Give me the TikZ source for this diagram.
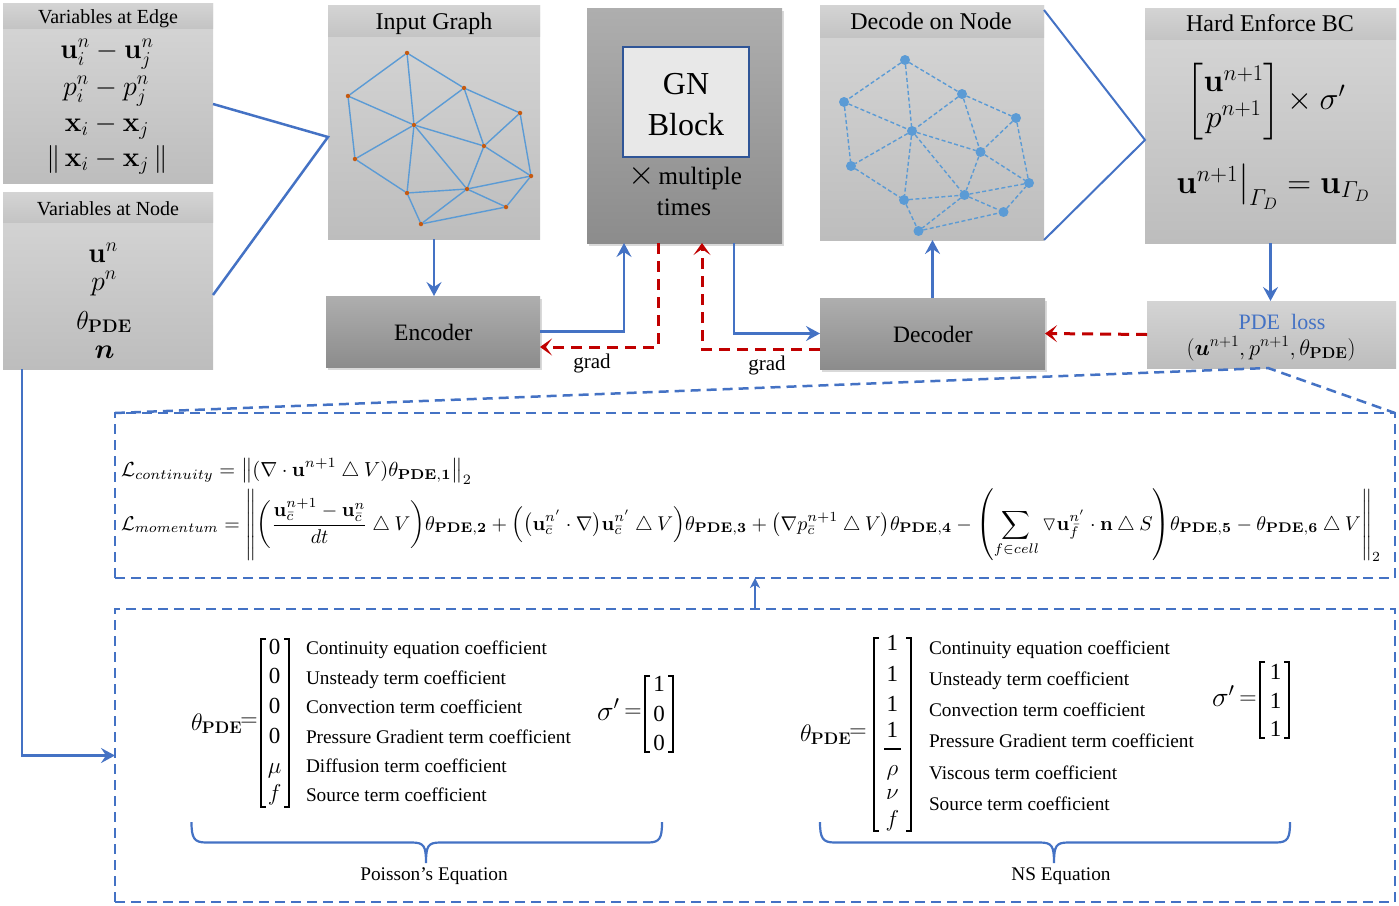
\RequirePackage{fix-cm}
\documentclass[tikz,border=0pt]{standalone}
\usepackage[no-math]{fontspec}
\setmainfont{Liberation Serif}
\usepackage{amsmath,amssymb,bm}
\usetikzlibrary{arrows.meta,shadows}
\definecolor{myblue}{HTML}{4472C4}
\definecolor{myred}{HTML}{C00000}
\definecolor{gblue}{HTML}{5B9BD5}
\definecolor{gorange}{HTML}{C55A11}
\definecolor{frameblue}{HTML}{2F5597}
\definecolor{lgtop}{HTML}{D7D7D7}
\definecolor{lgbot}{HTML}{BDBDBD}
\definecolor{lttop}{HTML}{D4D4D4}
\definecolor{ltbot}{HTML}{C4C4C4}
\definecolor{dgtop}{HTML}{AEAEAE}
\definecolor{dgbot}{HTML}{8C8C8C}
\definecolor{innerfill}{HTML}{E8E8E8}
\newcommand{\myfs}[1]{\fontsize{#1}{#1}\selectfont}
\begin{document}
\begin{tikzpicture}[x=1pt,y=-1pt,
 every node/.style={inner sep=0pt, outer sep=0pt},
 lbody/.style={rectangle, top color=lgtop, bottom color=lgbot},
 ltitle/.style={rectangle, top color=lttop, bottom color=ltbot},
 dbox/.style={rectangle, top color=dgtop, bottom color=dgbot, drop shadow={shadow xshift=2pt, shadow yshift=-3pt, opacity=0.3}},
 odot/.style={circle, fill=gorange, minimum size=4.5pt},
 bdot/.style={circle, fill=gblue, minimum size=10pt},
 gedge/.style={draw=gblue, line width=1.4pt},
 dedge/.style={draw=gblue, line width=1.4pt, dash pattern=on 4pt off 2.5pt},
 barrow/.style={draw=myblue, line width=2.5pt, -{Stealth[length=14pt,width=15pt,inset=5pt]}},
 rarrow/.style={draw=myred, line width=3pt, dash pattern=on 11pt off 7pt, -{Stealth[length=12pt,width=17pt,inset=6pt]}},
 bline/.style={draw=myblue, line width=2.5pt},
 tline/.style={draw=myblue, line width=2pt},
 bdash/.style={draw=myblue, line width=2.5pt, dash pattern=on 10pt off 6pt},
 brk/.style={draw=black, line width=2pt},
 bbrace/.style={draw=myblue, line width=2.2pt},
 lbl/.style={anchor=base west, font=\myfs{19.3}},
 ent/.style={anchor=base, font=\myfs{23}},
]
\useasboundingbox (0,0) rectangle (1399,905);

% ---------- light boxes ----------
\node[lbody, minimum width=210pt, minimum height=180pt] (edge) at (108,93) {};
\node[ltitle, minimum width=210pt, minimum height=25pt, anchor=north] (edget) at (edge.north) {};
\node[anchor=base, font=\myfs{20}] (edgetxt) at (108,23.5) {Variables at Edge};
\node[anchor=base, font=\myfs{28}] (e1) at (107,58) {$\mathbf{u}_i^n-\mathbf{u}_j^n$};
\node[anchor=base, font=\myfs{28}] (e2) at (106,95) {$p_i^n-p_j^n$};
\node[anchor=base, font=\myfs{28}] (e3) at (107,131.5) {$\mathbf{x}_i-\mathbf{x}_j$};
\node[anchor=base, font=\myfs{28}] (e4) at (107,166.5) {$\|\,\mathbf{x}_i-\mathbf{x}_j\,\|$};

\node[lbody, minimum width=210pt, minimum height=177pt] (nodevar) at (108,280.5) {};
\node[ltitle, minimum width=210pt, minimum height=30pt, anchor=north] (nodevart) at (nodevar.north) {};
\node[anchor=base, font=\myfs{20}] (nodevartxt) at (108,215) {Variables at Node};
\node[anchor=base, font=\myfs{28}] (v1) at (103,262) {$\mathbf{u}^n$};
\node[anchor=base, font=\myfs{28}] (v2) at (104,290) {$p^n$};
\node[anchor=base, font=\myfs{26}] (v3) at (104,329) {$\theta_{\mathbf{PDE}}$};
\node[anchor=base, font=\myfs{28}] (v4) at (104.5,358) {$\bm{n}$};

\node[lbody, minimum width=212pt, minimum height=234pt] (input) at (434,122) {};
\node[ltitle, minimum width=212pt, minimum height=31pt, anchor=north] (inputt) at (input.north) {};
\node[anchor=base, font=\myfs{24}] (inputtxt) at (434,29.5) {Input Graph};

\node[lbody, minimum width=224pt, minimum height=235pt] (decnode) at (932,122.5) {};
\node[ltitle, minimum width=224pt, minimum height=32pt, anchor=north] (decnodet) at (decnode.north) {};
\node[anchor=base, font=\myfs{24}] (decnodetxt) at (931,29.3) {Decode on Node};

\node[lbody, minimum width=251pt, minimum height=235pt] (hard) at (1270.5,125.5) {};
\node[ltitle, minimum width=251pt, minimum height=31pt, anchor=north] (hardt) at (hard.north) {};
\node[anchor=base, font=\myfs{24}] (hardtxt) at (1270,31.7) {Hard Enforce BC};
\node[font=\myfs{32}] (hm) at (1266,101.5) {$\begin{bmatrix}\mathbf{u}^{n+1}\\ p^{n+1}\end{bmatrix}\times\sigma'$};
\node[anchor=base, font=\myfs{33}] (hbc) at (1273,193) {$\mathbf{u}^{n+1}\big|_{\varGamma_D}=\mathbf{u}_{\varGamma_D}$};

\node[rectangle, top color=lttop, bottom color=lgbot, minimum width=249pt, minimum height=67pt] (pde) at (1271.5,334.5) {};
\node[anchor=base, font=\myfs{22}, text=myblue] (pdetxt) at (1282,329.3) {PDE~\ loss};
\node[anchor=base, font=\myfs{22.5}] (pdef) at (1271,355) {$(\bm{u}^{n+1},p^{n+1},\theta_{\mathbf{PDE}})$};

% ---------- dark boxes ----------
\node[dbox, minimum width=195pt, minimum height=235pt] (gn) at (684.5,125.5) {};
\node[draw=frameblue, line width=1.5pt, fill=innerfill, minimum width=126pt, minimum height=110pt] (gninner) at (686,102) {};
\node[anchor=base, font=\myfs{32}] (gn1) at (686,94) {GN};
\node[anchor=base, font=\myfs{32}] (gn2) at (686,135) {Block};
\node[anchor=base, font=\myfs{25}] (gn3) at (685,184) {{\myfs{34}$\times$}\,multiple};
\node[anchor=base, font=\myfs{25}] (gn4) at (684,215) {times};

\node[dbox, minimum width=214pt, minimum height=71pt] (enc) at (433,331.5) {};
\node[anchor=base, font=\myfs{23.5}] (enctxt) at (433.3,340) {Encoder};
\node[dbox, minimum width=225pt, minimum height=71pt] (dec) at (932.5,333.5) {};
\node[anchor=base, font=\myfs{23.5}] (dectxt) at (933,342.7) {Decoder};

% ---------- graphs ----------
\foreach \n/\x/\y in {a/407/53,b/464/88,c/348/96,d/520/113,e/414/125,f/484/146,g/355/159,h/531/176,i/467/189,j/407/193,k/506/207,l/421/224}
  \node[odot] (i\n) at (\x,\y) {};
\foreach \p/\q in {a/c,a/b,a/e,c/e,c/g,b/e,b/f,b/d,d/f,d/h,e/f,e/g,e/j,e/i,f/i,f/h,g/j,j/i,j/l,i/h,i/l,i/k,k/h,l/k}
  \draw[gedge] (i\p) -- (i\q);
\foreach \n/\x/\y in {a/905/60,b/962/94,c/844/102,d/1016/118,e/912/131,f/980.5/152,g/851/166,h/1029/183,i/964.5/195,j/904/200,k/1003.5/212,l/918.5/231}
  \node[bdot] (d\n) at (\x,\y) {};
\foreach \p/\q in {a/c,a/b,a/e,c/e,c/g,b/e,b/f,b/d,d/f,d/h,e/f,e/g,e/j,e/i,f/i,f/h,g/j,j/i,j/l,i/h,i/l,i/k,k/h,l/k}
  \draw[dedge] (d\p) -- (d\q);

% ---------- connectors ----------
\draw[bline] ([yshift=-11pt]edge.east) -- ([yshift=-15pt]input.west) -- ([yshift=-14.5pt]nodevar.east);
\draw[tline] ([yshift=-5pt]decnode.north east) -- ([yshift=-14.5pt]hard.west) -- (decnode.south east);
\draw[barrow] (input.south) -- (input.south |- enc.north);
\draw[barrow] (enc.east) -| ([xshift=-60.5pt]gn.south);
\draw[rarrow] ([xshift=-26.5pt]gn.south) |- ([yshift=-15.5pt]enc.east);
\draw[rarrow] ([yshift=-15.5pt]dec.west) -| ([xshift=17.5pt]gn.south);
\draw[barrow] ([xshift=49.5pt]gn.south) |- (dec.west);
\draw[barrow] (dec.north) -- (dec.north |- decnode.south);
\draw[barrow] (hard.south) -- (hard.south |- pde.north);
\draw[rarrow] (pde.west) -- (dec.east);
\node[anchor=base, font=\myfs{21}] (grad1) at (592,368) {grad};
\node[anchor=base, font=\myfs{21}] (grad2) at (767,370) {grad};

% ---------- dashed boxes ----------
\node[bdash, rectangle, minimum width=1280pt, minimum height=165pt] (box1) at (755,495.5) {};
\node[bdash, rectangle, minimum width=1280pt, minimum height=293pt] (box2) at (755,755.5) {};
\draw[bdash] (box1.north west) -- ([xshift=-3.5pt]pde.south) -- (box1.north east);
\draw[draw=myblue, line width=2pt, -{Stealth[length=10pt,width=10pt,inset=3pt]}] (box2.north) -- (box1.south);
\draw[barrow] ([xshift=-86pt]nodevar.south) |- (box2.west);

% ---------- loss formulas ----------
\node[anchor=base west] (lcont) at (121,476) {\resizebox{351pt}{!}{$\displaystyle \mathcal{L}_{continuity}=\bigl\|(\nabla\cdot\mathbf{u}^{n+1}\mathbin{\triangle} V)\theta_{\mathbf{PDE,1}}\bigr\|_2$}};
\node[anchor=base west] (lmom) at (121,530) {\resizebox{1260pt}{!}{$\displaystyle \mathcal{L}_{momentum}=\left\|{\left(\frac{\mathbf{u}_{\bar c}^{n+1}-\mathbf{u}_{\bar c}^{n}}{dt}\mathbin{\triangle} V\right)}\theta_{\mathbf{PDE,2}}+\Bigl(\bigl(\mathbf{u}_{\bar c}^{n'}\cdot\nabla\bigr)\mathbf{u}_{\bar c}^{n'}\mathbin{\triangle} V\Bigr)\theta_{\mathbf{PDE,3}}+\bigl(\nabla p_{\bar c}^{n+1}\mathbin{\triangle} V\bigr)\theta_{\mathbf{PDE,4}}-{\left(\sum_{f\in cell}\triangledown\mathbf{u}_{\bar f}^{n'}\cdot\mathbf{n}\mathbin{\triangle} S\right)}\theta_{\mathbf{PDE,5}}-\theta_{\mathbf{PDE,6}}\mathbin{\triangle} V\right\|_2$}};

% ---------- Poisson ----------
\node[anchor=base west, font=\myfs{24}] (pth) at (191,730) {$\theta_{\mathbf{PDE}}$};
\node[font=\myfs{24}] (peq) at (249,722) {$=$};
\draw[brk] (266,639) -- (261,639) -- (261,807) -- (266,807);
\draw[brk] (284,639) -- (289,639) -- (289,807) -- (284,807);
\node[ent] (p1) at (274.7,654) {0};
\node[ent] (p2) at (274.7,683.5) {0};
\node[ent] (p3) at (274.7,713) {0};
\node[ent] (p4) at (274.7,743) {0};
\node[ent] (p5) at (274.7,773) {$\mu$};
\node[ent] (p6) at (274.7,800) {$f$};
\node[lbl] (pl1) at (306,654) {Continuity equation coefficient};
\node[lbl] (pl2) at (306,684) {Unsteady term coefficient};
\node[lbl] (pl3) at (306,713) {Convection term coefficient};
\node[lbl] (pl4) at (306,743) {Pressure Gradient term coefficient};
\node[lbl] (pl5) at (306,772) {Diffusion term coefficient};
\node[lbl] (pl6) at (306,801) {Source term coefficient};
\node[anchor=base west, font=\myfs{28}] (psig) at (597,720) {$\sigma'$};
\node[font=\myfs{24}] (psigeq) at (633,713) {$=$};
\draw[brk] (650,676) -- (645,676) -- (645,752) -- (650,752);
\draw[brk] (668,676) -- (673,676) -- (673,752) -- (668,752);
\node[ent] (ps1) at (659,691.7) {1};
\node[ent] (ps2) at (659,721.7) {0};
\node[ent] (ps3) at (659,750.7) {0};
\draw[bbrace] (191.5,822) .. controls (191.5,838) and (194,842.5) .. (206,842.5) -- (412,842.5) .. controls (424,842.5) and (426,846) .. (426,863) .. controls (426,846) and (428,842.5) .. (440,842.5) -- (648,842.5) .. controls (660,842.5) and (662,838) .. (662,822);
\node[anchor=base, font=\myfs{19.3}] (poisson) at (434,880) {Poisson’s Equation};

% ---------- NS ----------
\node[anchor=base west, font=\myfs{24}] (nth) at (800,741) {$\theta_{\mathbf{PDE}}$};
\node[font=\myfs{24}] (neq) at (858,733) {$=$};
\draw[brk] (879,638) -- (874,638) -- (874,831) -- (879,831);
\draw[brk] (906,638) -- (911,638) -- (911,831) -- (906,831);
\node[ent] (n1) at (892.4,650) {1};
\node[ent] (n2) at (892.4,681) {1};
\node[ent] (n3) at (892.4,711) {1};
\node[ent] (n4) at (892.4,737) {1};
\draw[line width=1.6pt] (884,749) -- (900.5,749);
\node[ent] (n5) at (892.4,775) {$\rho$};
\node[ent] (n6) at (892.4,799.3) {$\nu$};
\node[ent] (n7) at (892.4,826.7) {$f$};
\node[lbl] (nl1) at (929,654) {Continuity equation coefficient};
\node[lbl] (nl2) at (929,685) {Unsteady term coefficient};
\node[lbl] (nl3) at (929,716) {Convection term coefficient};
\node[lbl] (nl4) at (929,747) {Pressure Gradient term coefficient};
\node[lbl] (nl5) at (929,779) {Viscous term coefficient};
\node[lbl] (nl6) at (929,810) {Source term coefficient};
\node[anchor=base west, font=\myfs{28}] (nsig) at (1212,706.7) {$\sigma'$};
\node[font=\myfs{24}] (nsigeq) at (1248,700) {$=$};
\draw[brk] (1265,662) -- (1260,662) -- (1260,738) -- (1265,738);
\draw[brk] (1284,662) -- (1289,662) -- (1289,738) -- (1284,738);
\node[ent] (ns1) at (1275.5,679) {1};
\node[ent] (ns2) at (1275.5,708) {1};
\node[ent] (ns3) at (1275.5,736.7) {1};
\draw[bbrace] (820,822) .. controls (820,838) and (822.5,842.5) .. (834.5,842.5) -- (1040,842.5) .. controls (1052,842.5) and (1054,846) .. (1054,863) .. controls (1054,846) and (1056,842.5) .. (1068,842.5) -- (1276,842.5) .. controls (1288,842.5) and (1290,838) .. (1290,822);
\node[anchor=base, font=\myfs{19.3}] (ns) at (1061,880.7) {NS Equation};
\end{tikzpicture}
\end{document}
